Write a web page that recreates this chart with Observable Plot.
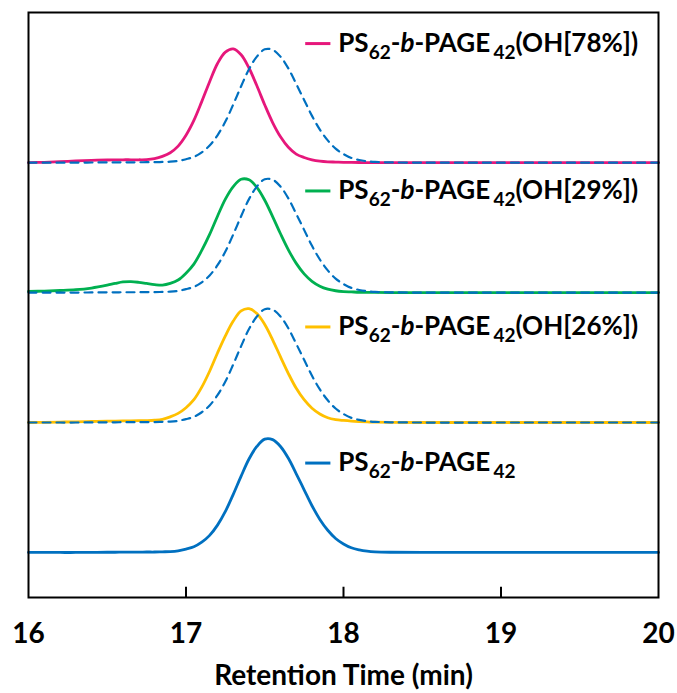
<!DOCTYPE html>
<html><head><meta charset="utf-8">
<script src="https://cdn.jsdelivr.net/npm/d3@7"></script>
<script src="https://cdn.jsdelivr.net/npm/@observablehq/plot@0.6"></script>
<style>body{margin:0;background:#fff}#chart svg{display:block}</style>
</head><body><div id="chart"></div>
<script>
// Retention time grid (min)
const time = [16.0,16.1,16.2,16.3,16.4,16.5,16.55,16.6,16.65,16.7,16.75,16.8,16.85,16.9,16.95,
  17.0,17.05,17.1,17.15,17.2,17.25,17.3,17.35,17.4,17.45,17.5,17.55,17.6,17.65,17.7,17.75,17.8,17.85,17.9,17.95,
  18.0,18.05,18.1,18.15,18.2,18.3,18.5,19.0,20.0];
// Normalized RI signal (peak = 100)
const signalPAGE = [0,0,0,0,0.1,0.2,0.2,0.3,0.3,0.3,0.4,0.4,0.6,0.8,1.5,
  3,5,9,15,24,36,51,67,82,93,99.4,99,93,82.6,69,55,41,29,19.5,12.3,
  7.5,4.1,2.3,1.2,0.6,0.2,0,0,0];
const signalOH26 = [0,0.2,0.4,0.6,0.9,1.2,1.3,1.4,1.5,1.6,1.7,2.0,2.8,5,8,
  13,20,31,45,61,76,89,98,99.9,95.6,86,72.6,57.6,43,30,20,12.5,7.5,4.2,2.6,
  1.8,1.2,0.8,0.5,0.3,0.1,0,0,0];
const signalOH29 = [1,1.3,1.8,2.5,4,6.5,8,9.3,9.6,9,8,7,6.5,8,11,
  17,25,37,51,67,82,93,99.4,98.9,92.3,81,66.7,51.6,37.5,25.6,16.4,9.9,5.6,3,1.6,
  0.9,0.6,0.3,0.2,0.1,0,0,0,0];
const signalOH78 = [0,0.3,0.8,1.5,2,2.3,2.4,2.5,2.5,2.5,2.6,3.5,5.5,8.7,14.5,
  24,37,53.5,71,87,97,99.8,94.6,83,67.4,50.6,35.2,22.7,13.5,7.5,4.5,2.5,1.3,0.7,0.5,
  0.3,0.2,0.1,0,0,0,0,0,0];
const seriesNames = ["PS62-b-PAGE42", "PS62-b-PAGE42(OH[26%])", "PS62-b-PAGE42(OH[29%])", "PS62-b-PAGE42(OH[78%])"];
const legendSuffix = ["", "(OH[26%])", "(OH[29%])", "(OH[78%])"];
const xTicks = [16, 17, 18, 19, 20];
const xLabel = "Retention Time (min)";

const signals = [signalPAGE, signalOH26, signalOH29, signalOH78];
const colors = ["#0070C0", "#FFC000", "#00B050", "#E6177B"];
const offsets = [0, 114, 228, 342];
const yDomain = [-39.5, 473.7];

const solid = [];
signals.forEach((s, k) => time.forEach((t, i) => solid.push({t, v: s[i] + offsets[k], series: seriesNames[k]})));
const dashed = [];
[1, 2, 3].forEach(k => time.forEach((t, i) => dashed.push({t, v: signalPAGE[i] + offsets[k], group: k})));

const FONT = "Lato, 'Open Sans', sans-serif";
const chart = Plot.plot({
  width: 677, height: 693,
  marginLeft: 28, marginRight: 19, marginTop: 12, marginBottom: 96,
  style: {fontFamily: FONT, fontWeight: "bold", background: "#fff", color: "#000"},
  x: {domain: [16, 20]},
  y: {domain: yDomain, axis: null},
  color: {domain: seriesNames, range: colors},
  marks: [
    Plot.line(solid, {x: "t", y: "v", stroke: "series", z: "series", strokeWidth: 2.8, curve: "catmull-rom"}),
    Plot.line(dashed, {x: "t", y: "v", z: "group", stroke: colors[0], strokeWidth: 2.2, strokeDasharray: "8,6", curve: "catmull-rom"}),
    Plot.ruleX([17, 18, 19], {y1: yDomain[0], y2: yDomain[0] + 9, stroke: "#000", strokeWidth: 2}),
    Plot.frame({stroke: "#000", strokeWidth: 2}),
    Plot.axisX({ticks: xTicks, tickSize: 0, tickPadding: 26, fontSize: 28, fontWeight: "bold", label: null, tickFormat: d => String(d)}),
    Plot.text([xLabel], {frameAnchor: "bottom", dy: 79, lineAnchor: "middle", text: d => d, fontSize: 28, fontWeight: "bold", fill: "#000"})
  ]
});
document.getElementById("chart").appendChild(chart);

// Legend with subscripts, placed through the chart's scales
const sx = chart.scale("x"), sy = chart.scale("y");
const legendY = [78, 197.4, 316.7, 446];
const svg = d3.select(chart);
const g = svg.append("g").attr("font-family", FONT).attr("font-weight", "bold").attr("font-size", 26).attr("text-anchor", "start");
legendSuffix.forEach((suf, k) => {
  const y = sy.apply(legendY[k]);
  const x0 = sx.apply(17.76), x1 = sx.apply(17.92), xt = sx.apply(17.97);
  g.append("line").attr("x1", x0).attr("x2", x1).attr("y1", y).attr("y2", y)
    .attr("stroke", colors[k]).attr("stroke-width", 3);
  const t = g.append("text").attr("x", xt).attr("y", y + 8).attr("fill", "#000").attr("text-anchor", "start");
  t.append("tspan").text("PS");
  t.append("tspan").attr("dy", 7).attr("font-size", 19).text("62");
  t.append("tspan").attr("dy", -7).text("-");
  t.append("tspan").attr("font-style", "italic").text("b");
  t.append("tspan").text("-PAGE\u2009");
  t.append("tspan").attr("dy", 7).attr("font-size", 19).text("42");
  if (suf) t.append("tspan").attr("dy", -7).text(suf);
});
</script>
</body></html>
